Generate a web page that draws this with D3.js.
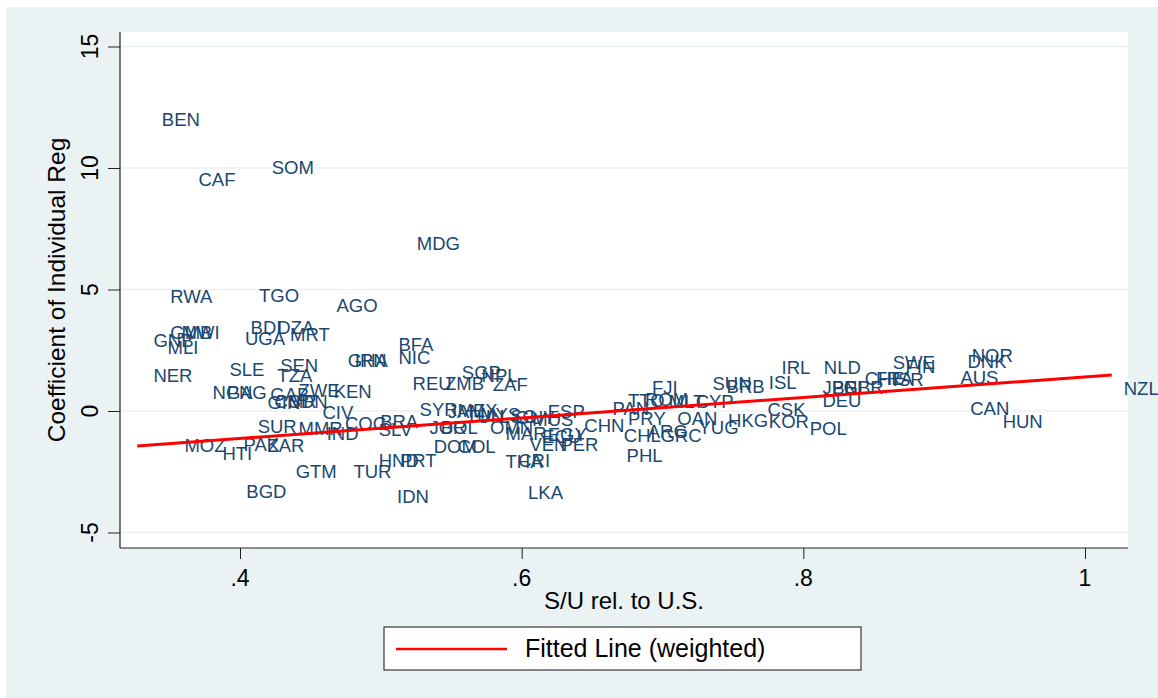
<!DOCTYPE html>
<html>
<head>
<meta charset="utf-8">
<script src="https://cdn.jsdelivr.net/npm/d3@7"></script>
<style>
  body { margin: 0; background: #ffffff; }
  text { font-family: "Liberation Sans", Arial, sans-serif; }
</style>
</head>
<body>
<script>
(function(){

//country codes shown as marker labels
var codes = ["BEN","CAF","SOM","MDG","RWA","TGO","AGO","GMB","MWI","GNB","MLI","BDI","DZA","UGA","MRT",
    "NER","SLE","SEN","TZA","GHA","IRN","BFA","NIC","NGA","PNG","GAB","ZWE","KEN","GIN","CMR","SDN",
    "CIV","SUR","MMR","IND","COG","BRA","SLV","MOZ","HTI","PAK","ZAR","GTM","TUR","BGD","HND","PRT","IDN",
    "REU","ZMB","SGP","NPL","ZAF","SYR","JAM","MEX","TUN","MYS","LSO","GUY","MUS","ESP","JOR","BOL",
    "OMN","MAR","ECU","EGY","VEN","PER","DOM","COL","THA","CRI","LKA","CHN","PAN","PRY","TTO","ROM",
    "MLT","FJI","CYP","OAN","HKG","KOR","CSK","CHL","ARG","GRC","YUG","PHL","SUN","BRB","ISL","IRL",
    "NLD","JPN","BEL","GBR","DEU","POL","CHE","FRA","ISR","SWE","FIN","AUS","NOR","DNK","CAN","HUN","NZL"];

//S/U relative to U.S. (x)
var suRel = [0.336,0.362,0.414,0.517,0.342,0.405,0.460,0.342,0.350,0.330,0.340,0.399,0.418,0.395,0.427,
    0.330,0.384,0.420,0.418,0.468,0.473,0.504,0.504,0.372,0.382,0.413,0.433,0.458,0.411,0.416,0.426,
    0.450,0.404,0.433,0.453,0.466,0.491,0.490,0.352,0.379,0.394,0.411,0.431,0.472,0.396,0.490,0.505,0.503,
    0.514,0.537,0.549,0.563,0.571,0.519,0.539,0.546,0.552,0.562,0.576,0.587,0.599,0.610,0.526,0.534,
    0.569,0.580,0.606,0.610,0.597,0.619,0.529,0.546,0.580,0.589,0.596,0.636,0.656,0.667,0.667,0.679,
    0.696,0.684,0.715,0.702,0.738,0.767,0.766,0.664,0.681,0.690,0.717,0.666,0.727,0.737,0.767,0.776,
    0.806,0.805,0.812,0.820,0.805,0.796,0.835,0.843,0.855,0.855,0.864,0.903,0.911,0.908,0.910,0.933,1.019];

//coefficient of individual regression (y)
var coef = [11.98,9.51,10.0,6.91,4.73,4.77,4.32,3.25,3.21,2.92,2.63,3.42,3.42,3.0,3.13,
    1.48,1.69,1.89,1.48,2.06,2.06,2.72,2.22,0.78,0.78,0.66,0.86,0.82,0.33,0.41,0.37,
    -0.08,-0.62,-0.74,-0.91,-0.53,-0.45,-0.78,-1.44,-1.73,-1.40,-1.44,-2.51,-2.51,-3.33,-2.02,-2.02,-3.50,
    1.15,1.15,1.60,1.48,1.07,0.08,-0.04,0.04,-0.21,-0.16,-0.21,-0.25,-0.37,-0.04,-0.66,-0.66,
    -0.70,-0.91,-1.03,-0.95,-1.40,-1.40,-1.48,-1.48,-2.06,-2.02,-3.37,-0.58,0.12,-0.29,0.45,0.49,
    0.37,0.95,0.37,-0.29,-0.41,-0.45,0.08,-0.99,-0.86,-0.99,-0.66,-1.85,1.15,0.99,1.19,1.77,
    1.77,0.95,0.95,0.95,0.45,-0.74,1.32,1.32,1.28,1.98,1.81,1.36,2.30,2.02,0.12,-0.45,0.91];

//weighted fitted line end points
var fitX = [0.327, 1.019];
var fitY = [-1.44, 1.48];

//axis ticks and titles
var xTicks = [0.4, 0.6, 0.8, 1];
var yTicks = [-5, 0, 5, 10, 15];
var xTitle = "S/U rel. to U.S.";
var yTitle = "Coefficient of Individual Reg";
var legendLabel = "Fitted Line (weighted)";

//frame dimensions
var width = 1158,
    height = 698,
    plotLeft = 120,
    plotRight = 1128,
    plotTop = 32,
    plotBottom = 548;

var navy = "#1a476f",
    bgColor = "#eaf2f3";

//scales
var x = d3.scaleLinear()
    .domain([0.4, 1])
    .range([240, 1085]);

var y = d3.scaleLinear()
    .domain([-5, 15])
    .range([532.5, 46.5]);

var svg = d3.select("body")
    .append("svg")
    .attr("width", width)
    .attr("height", height);

//outer graph region
svg.append("rect")
    .attr("x", 6)
    .attr("y", 7)
    .attr("width", width - 6)
    .attr("height", height - 7)
    .attr("fill", bgColor);

//plot region
svg.append("rect")
    .attr("x", plotLeft)
    .attr("y", plotTop)
    .attr("width", plotRight - plotLeft)
    .attr("height", plotBottom - plotTop)
    .attr("fill", "#ffffff");

//horizontal grid lines
svg.selectAll(".grid")
    .data(yTicks)
    .enter()
    .append("line")
    .attr("class", "grid")
    .attr("x1", plotLeft)
    .attr("x2", plotRight)
    .attr("y1", function(d){ return y(d); })
    .attr("y2", function(d){ return y(d); })
    .attr("stroke", bgColor)
    .attr("stroke-width", 1.5);

//y axis
var yAxis = svg.append("g")
    .attr("transform", "translate(" + plotLeft + ",0)")
    .call(d3.axisLeft(y).tickValues(yTicks).tickSize(12).tickFormat(""));

//x axis
var xAxis = svg.append("g")
    .attr("transform", "translate(0," + plotBottom + ")")
    .call(d3.axisBottom(x).tickValues(xTicks).tickSize(11).tickFormat(""));

[yAxis, xAxis].forEach(function(ax){
    ax.select(".domain").remove();
    ax.selectAll("line").attr("stroke", "#222").attr("stroke-width", 1);
});

//axis lines spanning the plot region
svg.append("line")
    .attr("x1", plotLeft).attr("x2", plotLeft)
    .attr("y1", plotTop).attr("y2", plotBottom)
    .attr("stroke", "#222").attr("stroke-width", 1.2);
svg.append("line")
    .attr("x1", plotLeft).attr("x2", plotRight)
    .attr("y1", plotBottom).attr("y2", plotBottom)
    .attr("stroke", "#222").attr("stroke-width", 1.2);

//y tick labels, rotated like Stata
svg.selectAll(".ylab")
    .data(yTicks)
    .enter()
    .append("text")
    .attr("class", "ylab")
    .attr("transform", function(d){ return "translate(98," + y(d) + ") rotate(-90)"; })
    .attr("text-anchor", "middle")
    .style("font-size", "23px")
    .text(function(d){ return String(d); });

//x tick labels
svg.selectAll(".xlab")
    .data(xTicks)
    .enter()
    .append("text")
    .attr("class", "xlab")
    .attr("x", function(d){ return x(d); })
    .attr("y", 586)
    .attr("text-anchor", "middle")
    .style("font-size", "23px")
    .text(function(d){ return String(d).replace(/^0\./, "."); });

//axis titles
svg.append("text")
    .attr("x", (plotLeft + plotRight) / 2)
    .attr("y", 609)
    .attr("text-anchor", "middle")
    .style("font-size", "24px")
    .text(xTitle);

svg.append("text")
    .attr("transform", "translate(65," + ((plotTop + plotBottom) / 2) + ") rotate(-90)")
    .attr("text-anchor", "middle")
    .style("font-size", "24.5px")
    .text(yTitle);

//country labels, placed at 3 o'clock of each (invisible) marker
svg.selectAll(".cty")
    .data(codes)
    .enter()
    .append("text")
    .attr("class", "cty")
    .attr("x", function(d, i){ return x(suRel[i]) + 12; })
    .attr("y", function(d, i){ return y(coef[i]); })
    .attr("dy", "0.35em")
    .attr("fill", navy)
    .style("font-size", "18.5px")
    .text(function(d){ return d; });

//fitted line
var line = d3.line()
    .x(function(d){ return x(d[0]); })
    .y(function(d){ return y(d[1]); });

svg.append("path")
    .datum(fitX.map(function(v, i){ return [v, fitY[i]]; }))
    .attr("d", line)
    .attr("fill", "none")
    .attr("stroke", "#ff0000")
    .attr("stroke-width", 3);

//legend
var legend = svg.append("g");
legend.append("rect")
    .attr("x", 384)
    .attr("y", 627)
    .attr("width", 477)
    .attr("height", 43)
    .attr("fill", "#ffffff")
    .attr("stroke", "#111")
    .attr("stroke-width", 1);
legend.append("line")
    .attr("x1", 396).attr("x2", 507)
    .attr("y1", 649).attr("y2", 649)
    .attr("stroke", "#ff0000")
    .attr("stroke-width", 2.5);
legend.append("text")
    .attr("x", 525)
    .attr("y", 657)
    .style("font-size", "25px")
    .text(legendLabel);

})();
</script>
</body>
</html>
